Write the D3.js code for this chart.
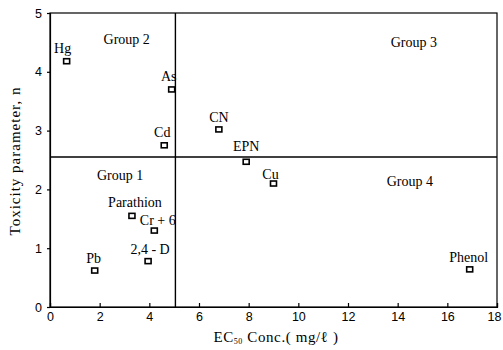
<!DOCTYPE html>
<html>
<head>
<meta charset="utf-8">
<script src="https://cdn.jsdelivr.net/npm/d3@7"></script>
<style>
  body { margin: 0; background: #fff; }
  svg { display: block; font-family: "Liberation Serif", "DejaVu Serif", serif; }
  .axis path, .axis line { stroke: #000; stroke-width: 1.2; }
  .axis text { font-size: 12.5px; fill: #000; }
  .lbl { font-size: 14px; fill: #000; }
</style>
</head>
<body>
<svg class="chart" width="503" height="350"></svg>
<script>
"use strict";

// data
var names = ['Hg', 'As', 'Cd', 'CN', 'EPN', 'Cu', 'Phenol', 'Parathion', 'Cr + 6', '2,4 - D', 'Pb'];
var ec50 = [0.67, 4.9, 4.6, 6.8, 7.9, 9.0, 16.9, 3.3, 4.2, 3.95, 1.8];
var toxN = [4.18, 3.70, 2.75, 3.02, 2.47, 2.10, 0.64, 1.55, 1.30, 0.78, 0.62];
var xTicks = [0, 2, 4, 6, 8, 10, 12, 14, 16, 18];
var yTicks = [0, 1, 2, 3, 4, 5];
var splitX = 5.05;
var splitY = 2.55;
var groups = ['Group 1', 'Group 2', 'Group 3', 'Group 4'];
var groupX = [2.82, 3.09, 14.65, 14.49];
var groupY = [2.155, 4.48, 4.42, 2.05];

// label offsets (px, baseline) relative to each point
var labelOff = [[-4, -8], [-3, -8], [-2, -8.5], [0, -7], [0, -10.5], [-3, -5], [-1, -7.5], [3, -8.5], [3.5, -5.3], [2, -7.4], [-1, -8]];

var svg = d3.select('.chart');
var margin = {top: 13, right: 6, bottom: 43, left: 50};
var W = 503 - margin.left - margin.right;
var H = 350 - margin.top - margin.bottom;

var x = d3.scaleLinear().domain([0, 18]).range([0, W]);
var y = d3.scaleLinear().domain([0, 5]).range([H, 0]);

var g = svg.append('g').attr('transform', 'translate(' + margin.left + ',' + margin.top + ')');

var xAxis = g.append('g').attr('class', 'axis')
  .attr('transform', 'translate(0,' + H + ')')
  .call(d3.axisBottom(x).tickValues(xTicks).tickSize(-4).tickPadding(5).tickFormat(d3.format('d')));
// keep the last label inside the picture
xAxis.selectAll('.tick text').filter(function (d) { return d === 18; }).attr('dx', -3);

g.append('g').attr('class', 'axis')
  .call(d3.axisLeft(y).tickValues(yTicks).tickSize(3).tickPadding(5).tickFormat(d3.format('d')));

// frame
g.append('rect')
  .attr('x', 0).attr('y', 0).attr('width', W).attr('height', H)
  .attr('fill', 'none').attr('stroke', '#000').attr('stroke-width', 1.2);

// quadrant lines
g.append('line')
  .attr('x1', x(splitX)).attr('x2', x(splitX)).attr('y1', 0).attr('y2', H)
  .attr('stroke', '#000').attr('stroke-width', 1.4);
g.append('line')
  .attr('x1', 0).attr('x2', W).attr('y1', y(splitY)).attr('y2', y(splitY))
  .attr('stroke', '#000').attr('stroke-width', 1.4);

g.selectAll('.grp')
  .data(groups)
  .enter()
  .append('text')
  .attr('class', 'lbl')
  .attr('x', function (d, i) { return x(groupX[i]); })
  .attr('y', function (d, i) { return y(groupY[i]); })
  .attr('text-anchor', 'middle')
  .text(function (d) { return d; });

var pts = names.map(function (n, i) { return {name: n, x: ec50[i], y: toxN[i], off: labelOff[i]}; });

g.selectAll('.pt')
  .data(pts)
  .enter()
  .append('rect')
  .attr('x', function (d) { return x(d.x) - 3; })
  .attr('y', function (d) { return y(d.y) - 2.5; })
  .attr('width', 6).attr('height', 5)
  .attr('fill', '#fff').attr('stroke', '#000').attr('stroke-width', 1.6);

g.selectAll('.pl')
  .data(pts)
  .enter()
  .append('text')
  .attr('class', 'lbl')
  .attr('x', function (d) { return x(d.x) + d.off[0]; })
  .attr('y', function (d) { return y(d.y) + d.off[1]; })
  .attr('text-anchor', 'middle')
  .text(function (d) { return d.name; });

// axis titles
svg.append('text')
  .attr('class', 'lbl')
  .attr('transform', 'translate(20,' + 161 + ') rotate(-90)')
  .attr('text-anchor', 'middle')
  .style('font-size', '15px')
  .style('letter-spacing', '1px')
  .text('Toxicity parameter, n');

var xt = svg.append('text')
  .attr('class', 'lbl')
  .attr('x', margin.left + x(9.1))
  .attr('y', 342)
  .attr('text-anchor', 'middle')
  .style('font-size', '15px')
  .style('letter-spacing', '0.6px');
xt.append('tspan').text('EC');
xt.append('tspan').attr('dy', 2).style('font-size', '8px').text('50');
xt.append('tspan').attr('dy', -2).text(' Conc.( mg/ℓ )');
</script>
</body>
</html>
